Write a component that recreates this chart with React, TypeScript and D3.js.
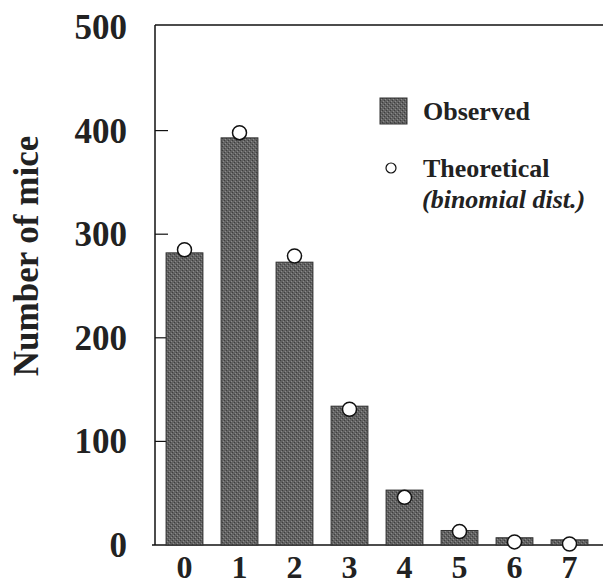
import React from "react";
import * as d3 from "d3";

const categories = ["0", "1", "2", "3", "4", "5", "6", "7"];
const observed = [282, 393, 273, 134, 53, 14, 7, 5];
const theoretical = [285, 398, 279, 131, 46, 13, 3, 1];
const yTicks = [0, 100, 200, 300, 400, 500];

const W = 603;
const H = 585;
const FONT = "Liberation Serif, Tinos, DejaVu Serif, serif";

const txt = (size: number, italic = false): React.CSSProperties => ({
  fontFamily: FONT,
  fontWeight: 700,
  fontStyle: italic ? "italic" : "normal",
  fontSize: size,
});

export default function App() {
  const x = d3
    .scaleBand<string>()
    .domain(categories)
    .range([157, 597])
    .paddingInner(0.33)
    .paddingOuter(0.165);
  const y = d3.scaleLinear().domain([0, 500]).range([545, 27]);
  const bw = x.bandwidth();

  return (
    <svg
      width={W}
      height={H}
      style={{ position: "absolute", left: 0, top: 0, background: "#fff" }}
    >
      <defs>
        <pattern id="stip" width="4" height="4" patternUnits="userSpaceOnUse">
          <rect width="4" height="4" fill="#626262" />
          <rect x="0" y="0" width="1" height="1" fill="#3e3e3e" />
          <rect x="2" y="2" width="1" height="1" fill="#3e3e3e" />
          <rect x="1" y="3" width="1" height="1" fill="#8a8a8a" />
          <rect x="3" y="1" width="1" height="1" fill="#8a8a8a" />
        </pattern>
      </defs>
      <line x1={155} x2={603} y1={25} y2={25} stroke="#111" strokeWidth={1.5} />
      <line x1={155} x2={155} y1={25} y2={545} stroke="#111" strokeWidth={1.5} />
      <line x1={152} x2={603} y1={545} y2={545} stroke="#111" strokeWidth={1.5} />
      {yTicks.map((t) => (
        <g key={t}>
          {t > 0 && t < 500 && (
            <line x1={155} x2={168} y1={y(t)} y2={y(t)} stroke="#111" strokeWidth={1.2} />
          )}
          <text
            x={127}
            y={y(t) + 12}
            textAnchor="end"
            style={txt(35)}
            fill="#222"
          >
            {t}
          </text>
        </g>
      ))}
      <text
        transform={`translate(38, 256) rotate(-90)`}
        textAnchor="middle"
        style={txt(35)}
        fill="#222"
      >
        Number of mice
      </text>
      {categories.map((c, i) => (
        <rect
          key={c}
          x={x(c)}
          y={y(observed[i])}
          width={bw}
          height={y(0) - y(observed[i])}
          fill="url(#stip)"
          stroke="#333"
          strokeWidth={1}
        />
      ))}
      {categories.map((c, i) => (
        <circle
          key={c}
          cx={(x(c) as number) + bw / 2}
          cy={y(theoretical[i])}
          r={7}
          fill="#fff"
          stroke="#111"
          strokeWidth={1.5}
        />
      ))}
      {categories.map((c) => (
        <text
          key={c}
          x={(x(c) as number) + bw / 2}
          y={578}
          textAnchor="middle"
          style={txt(32)}
          fill="#222"
        >
          {c}
        </text>
      ))}
      <rect x={380} y={98} width={27} height={26} fill="url(#stip)" stroke="#333" strokeWidth={1} />
      <text x={423} y={120} style={txt(26)} fill="#222">
        Observed
      </text>
      <circle cx={391} cy={168} r={5} fill="#fff" stroke="#111" strokeWidth={1.2} />
      <text x={423} y={177} style={txt(26)} fill="#222">
        Theoretical
      </text>
      <text x={422} y={208} style={txt(26, true)} fill="#222">
        (binomial dist.)
      </text>
    </svg>
  );
}
